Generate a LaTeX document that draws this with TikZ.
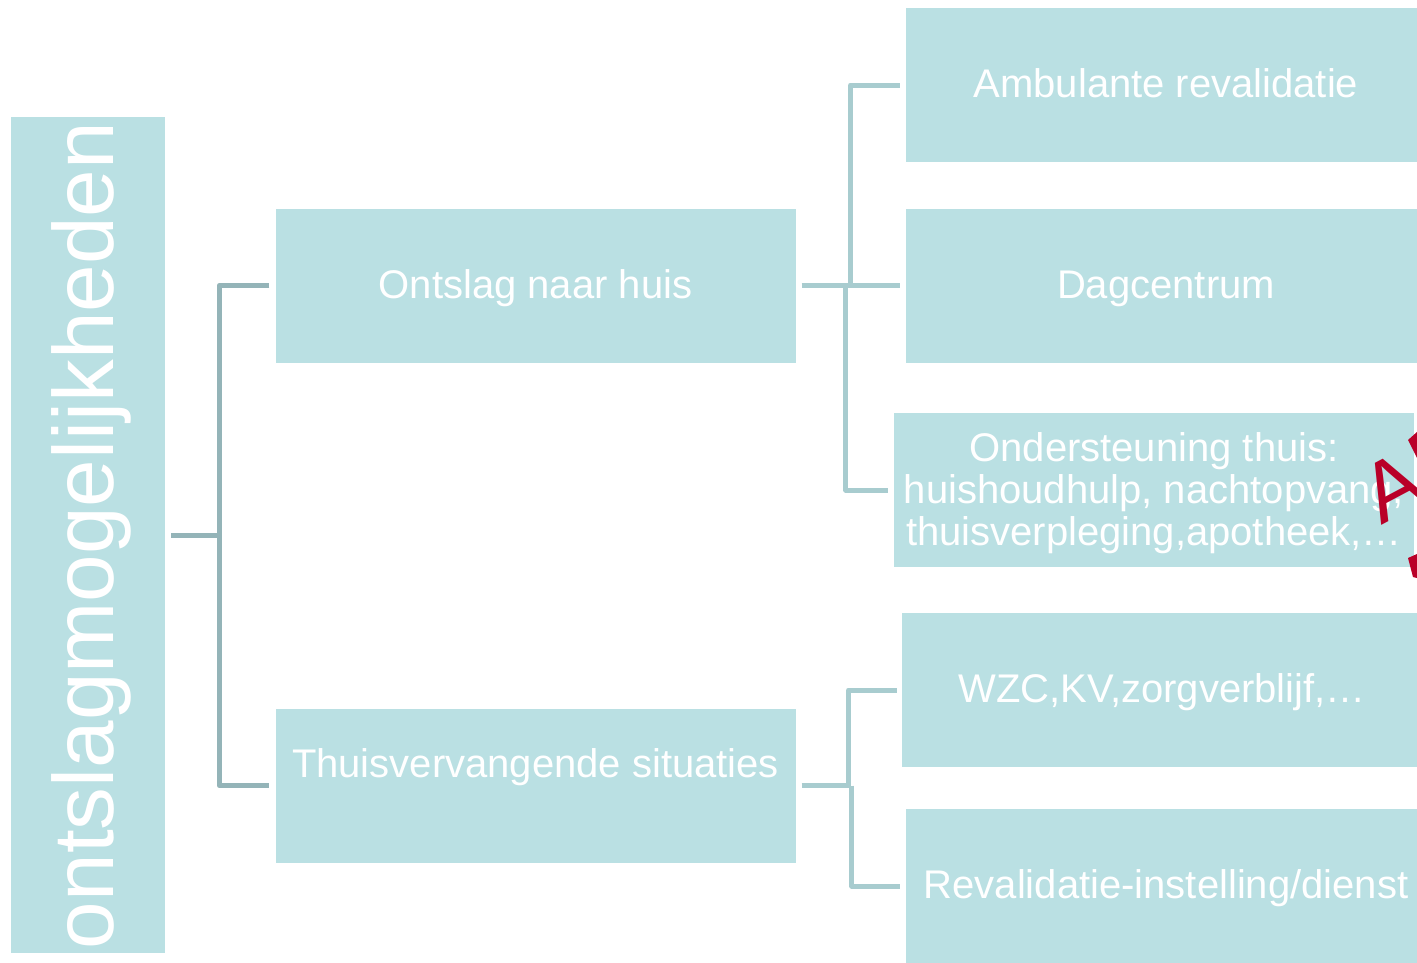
\documentclass[tikz,border=0pt]{standalone}
\usepackage{fontspec}
\setmainfont{Liberation Sans}
\definecolor{boxfill}{RGB}{186,224,227}
\definecolor{darkline}{RGB}{148,180,184}
\definecolor{lightline}{RGB}{168,204,207}
\definecolor{stamp}{RGB}{185,0,40}
\tikzset{
  box/.style={fill=boxfill, draw=none, inner sep=0pt, minimum width=520pt, minimum height=154pt,
              text=white, align=center, font=\fontsize{40}{42}\selectfont,
              text height=29pt, text depth=4pt},
  darkconn/.style={draw=darkline, line width=5pt, line join=round},
  lightconn/.style={draw=lightline, line width=5pt, line join=round},
}
\begin{document}
\begin{tikzpicture}[x=1pt, y=-1pt]
\useasboundingbox (0,0) rectangle (1417,962);
\clip (0,0) rectangle (1417,962);
\fill[white] (0,0) rectangle (1417,962);

% root column
\node[fill=boxfill, inner sep=0pt, minimum width=154pt, minimum height=836pt] (root) at (88,535) {};
\node[rotate=90, anchor=base, text=white, font=\fontsize{85.5}{86}\selectfont, inner sep=0pt]
  (roottext) at (113,535.5) {ontslagmogelijkheden};

% second level
\node[box] (ontslag) at (535.5,285.5) {Ontslag naar huis};
\node[box] (thuis) at (535.5,785.5) {};
\node[text=white, font=\fontsize{40}{42}\selectfont, inner sep=0pt, text height=29pt, text depth=4pt]
  (thuistext) at (535.5,765) {Thuisvervangende situaties};

% third level
\node[box] (amb) at (1166,85) {Ambulante revalidatie};
\node[box] (dag) at (1166,285.5) {Dagcentrum};
\node[box, text height=, text depth=2.4pt] (onder) at (1154,490)
  {Ondersteuning thuis:\\huishoudhulp, nachtopvang,\\thuisverpleging,apotheek,\ldots};
\node[box] (wzc) at (1162,690) {WZC,KV,zorgverblijf,\ldots};
\node[box] (reval) at (1166,886) {Revalidatie-instelling/dienst};

% connectors: root to second level
\draw[darkconn] ([xshift=6pt]root.east) -- ++(48,0) coordinate (j1);
\draw[darkconn] ([xshift=-6pt]ontslag.west) -| (j1) |- ([xshift=-6pt]thuis.west);

% connectors: Ontslag naar huis
\draw[lightconn] ([xshift=6pt]ontslag.east) -- ([xshift=-6pt]dag.west);
\coordinate (k1) at ([xshift=55pt]ontslag.east);
\coordinate (k2) at ([xshift=50pt]ontslag.east);
\draw[lightconn] (k1) |- ([xshift=-6pt]amb.west);
\draw[lightconn] (k2) |- ([xshift=-6pt]onder.west);

% connectors: Thuisvervangende situaties
\draw[lightconn] ([xshift=6pt]thuis.east) -- ++(47,0) coordinate (k3);
\coordinate (k4) at ([xshift=56pt]thuis.east);
\draw[lightconn] (k3) |- ([xshift=-5pt]wzc.west);
\draw[lightconn] (k4) |- ([xshift=-6pt]reval.west);

% red stamp at the right edge
\node[rotate=28, anchor=base, text=stamp, font=\fontsize{84}{84}\selectfont, inner sep=0pt]
  (stampA) at (1406,512) {A};
\fill[stamp] (1408,440) -- (1417,432) -- (1417,458) -- cycle;
\fill[stamp] (1408,558) -- (1417,554) -- (1417,578) -- (1413,577) -- cycle;
\end{tikzpicture}
\end{document}
